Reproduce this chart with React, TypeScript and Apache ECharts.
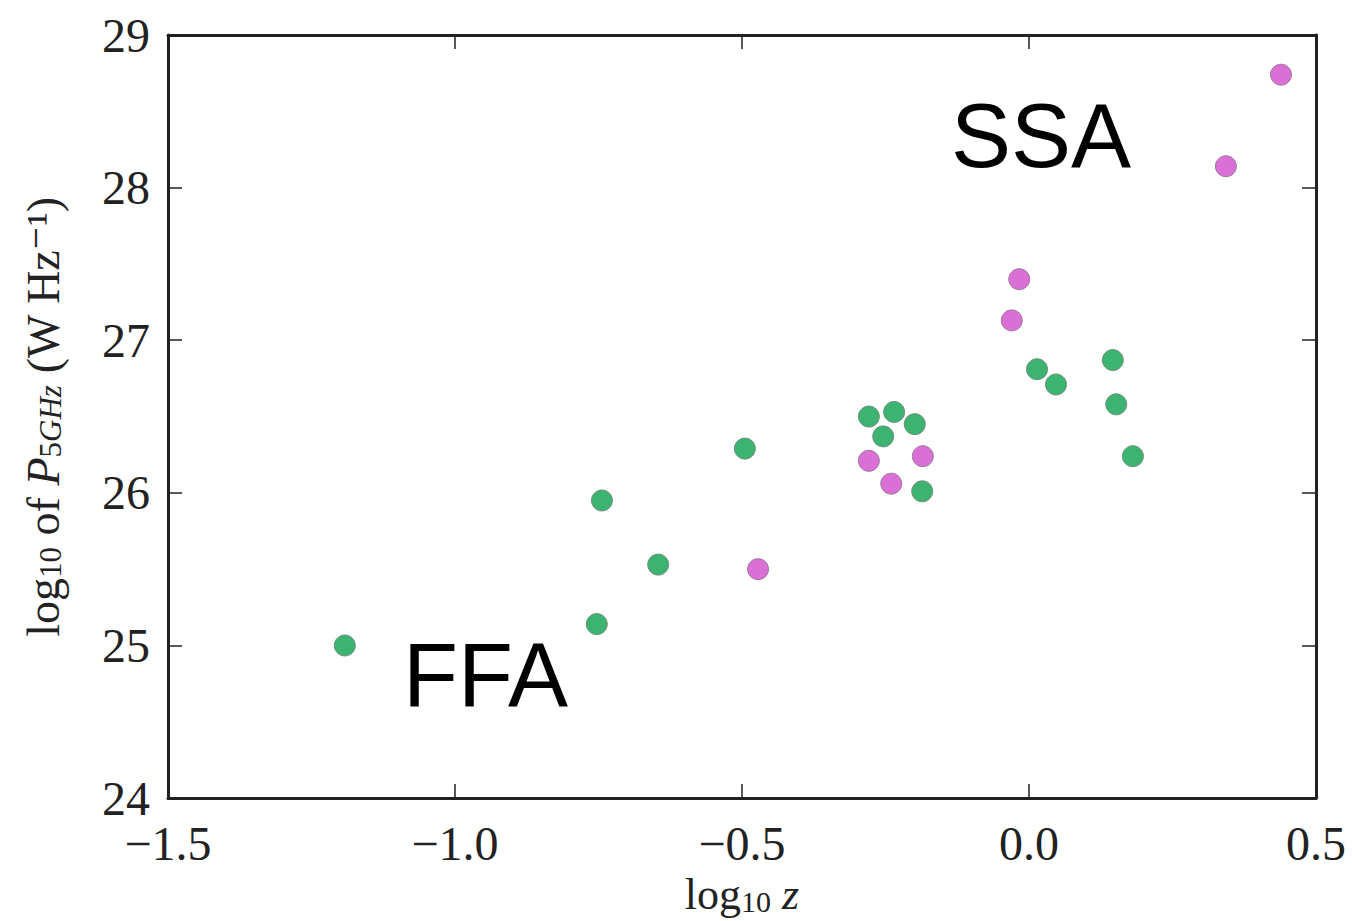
import React, { useEffect, useRef } from "react";
import * as echarts from "echarts";

const ffaPoints: [number, number][] = [
  [-1.192, 25.0],
  [-0.744, 25.95],
  [-0.753, 25.14],
  [-0.646, 25.53],
  [-0.495, 26.29],
  [-0.279, 26.5],
  [-0.235, 26.53],
  [-0.254, 26.37],
  [-0.199, 26.45],
  [-0.186, 26.01],
  [0.014, 26.81],
  [0.047, 26.71],
  [0.146, 26.87],
  [0.152, 26.58],
  [0.181, 26.24],
];

const ssaPoints: [number, number][] = [
  [-0.472, 25.5],
  [-0.279, 26.21],
  [-0.24, 26.06],
  [-0.185, 26.24],
  [-0.03, 27.13],
  [-0.017, 27.4],
  [0.343, 28.14],
  [0.439, 28.74],
];

const xRange = { min: -1.5, max: 0.5, step: 0.5 };
const yRange = { min: 24, max: 29, step: 1 };

const serif = "'Liberation Serif', 'DejaVu Serif', serif";
const sans = "'Liberation Sans', Arial, sans-serif";

const fmtX = (v: number) => v.toFixed(1).replace("-", "\u2212");

export default function App() {
  const ref = useRef<HTMLDivElement>(null);
  useEffect(() => {
    if (!ref.current) return;
    const chart = echarts.init(ref.current, null, { renderer: "svg" });
    const tickStyle = { show: true, inside: true, length: 14, lineStyle: { color: "#222", width: 1.5 } };
    const lineStyle = { show: true, lineStyle: { color: "#222", width: 3 } };
    const nameColor = "#222";
    chart.setOption({
      animation: false,
      backgroundColor: "#ffffff",
      grid: { left: 168, top: 35, right: 36, bottom: 121, show: false },
      xAxis: [
        {
          type: "value",
          min: xRange.min,
          max: xRange.max,
          interval: xRange.step,
          position: "bottom",
          axisLine: { ...lineStyle, onZero: false },
          axisTick: tickStyle,
          splitLine: { show: false },
          axisLabel: {
            formatter: fmtX,
            fontFamily: serif,
            fontSize: 48,
            color: "#222",
            margin: 21,
          },
          name: "log{sub|10} {i|z}",
          nameLocation: "middle",
          nameGap: 60,
          nameTextStyle: {
            fontFamily: serif,
            fontSize: 44,
            color: nameColor,
            verticalAlign: "top",
            rich: {
              i: { fontFamily: serif, fontSize: 44, fontStyle: "italic", color: nameColor },
              sub: { fontFamily: serif, fontSize: 30, color: nameColor, verticalAlign: "bottom", lineHeight: 30, padding: [14, 0, 0, 0] },
            },
          },
        },
        {
          type: "value",
          min: xRange.min,
          max: xRange.max,
          interval: xRange.step,
          position: "top",
          axisLine: { ...lineStyle, onZero: false },
          axisTick: tickStyle,
          splitLine: { show: false },
          axisLabel: { show: false },
        },
      ],
      yAxis: [
        {
          type: "value",
          min: yRange.min,
          max: yRange.max,
          interval: yRange.step,
          position: "left",
          axisLine: { ...lineStyle, onZero: false },
          axisTick: tickStyle,
          splitLine: { show: false },
          axisLabel: {
            fontFamily: serif,
            fontSize: 48,
            color: "#222",
            margin: 18,
          },
          name: "log{sub|10} of {i|P}{sub|5}{isub|GHz} (W Hz\u207B\u00B9)",
          nameLocation: "middle",
          nameGap: 102,
          nameRotate: 90,
          nameTextStyle: {
            fontFamily: serif,
            fontSize: 46,
            color: nameColor,
            rich: {
              i: { fontFamily: serif, fontSize: 46, fontStyle: "italic", color: nameColor },
              sub: { fontFamily: serif, fontSize: 31, color: nameColor, verticalAlign: "bottom", lineHeight: 31, padding: [14, 0, 0, 0] },
              isub: { fontFamily: serif, fontSize: 31, fontStyle: "italic", color: nameColor, verticalAlign: "bottom", lineHeight: 31, padding: [14, 0, 0, 0] },
            },
          },
        },
        {
          type: "value",
          min: yRange.min,
          max: yRange.max,
          interval: yRange.step,
          position: "right",
          axisLine: { ...lineStyle, onZero: false },
          axisTick: tickStyle,
          splitLine: { show: false },
          axisLabel: { show: false },
        },
      ],
      series: [
        {
          name: "FFA",
          type: "scatter",
          data: ffaPoints,
          symbolSize: 21,
          itemStyle: { color: "#3cb371", opacity: 1, borderColor: "#6f8f7c", borderWidth: 1 },
        },
        {
          name: "SSA",
          type: "scatter",
          data: ssaPoints,
          symbolSize: 21,
          itemStyle: { color: "#da70d6", opacity: 1, borderColor: "#9b7a9a", borderWidth: 1 },
        },
      ],
      graphic: [
        {
          type: "text",
          left: 403,
          top: 630,
          style: { text: "FFA", font: `90px ${sans}`, fill: "#000" },
        },
        {
          type: "text",
          left: 951,
          top: 91,
          style: { text: "SSA", font: `90px ${sans}`, fill: "#000" },
        },
      ],
    });
    return () => chart.dispose();
  }, []);
  return (
    <div
      ref={ref}
      style={{ position: "absolute", left: 0, top: 0, width: 1352, height: 921 }}
    />
  );
}
